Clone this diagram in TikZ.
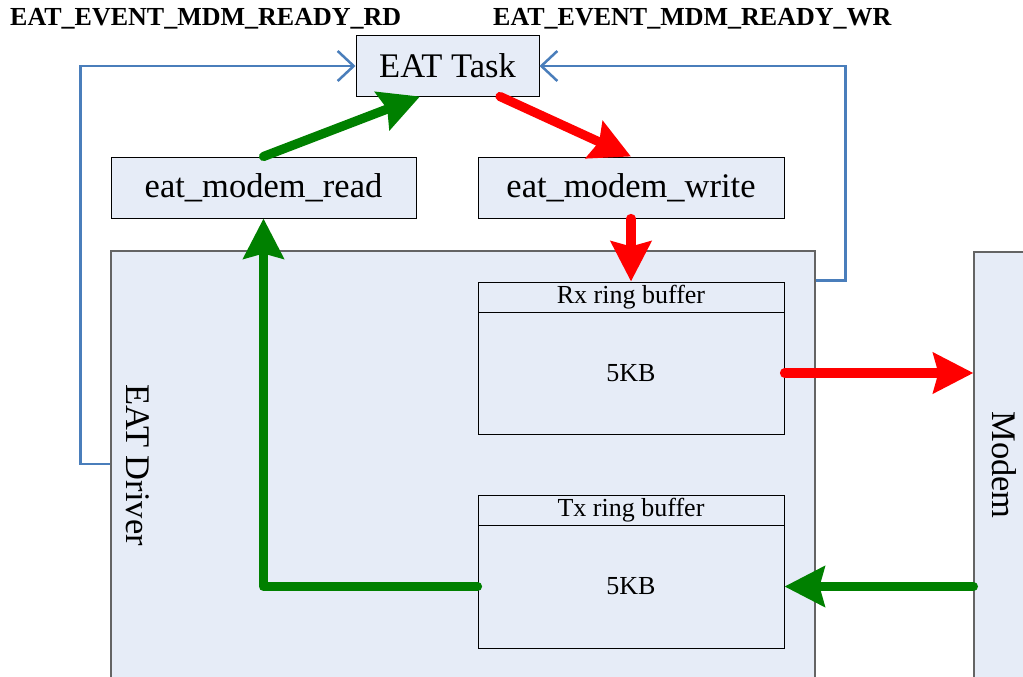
\documentclass[tikz,border=0pt]{standalone}
\usepackage{fontspec}
\setmainfont{Liberation Serif}
\usetikzlibrary{arrows.meta}
\definecolor{boxfill}{RGB}{230,236,247}
\definecolor{bline}{RGB}{74,126,187}
\definecolor{garrow}{RGB}{0,128,0}
\definecolor{rarrow}{RGB}{255,0,0}
\definecolor{bigedge}{RGB}{100,100,100}
\begin{document}
\begin{tikzpicture}[x=1pt,y=-1pt,
  box/.style={draw=black, line width=1pt, fill=boxfill, inner sep=0pt, font=\fontsize{34.5}{40}\selectfont},
  bigbox/.style={draw=bigedge, line width=1.2pt, fill=boxfill, inner sep=0pt},
  bufhead/.style={draw=black, line width=1pt, fill=boxfill, inner sep=0pt, minimum width=306pt, font=\fontsize{26}{30}\selectfont},
  lbl/.style={inner sep=0pt, font=\fontsize{26}{30}\selectfont\bfseries},
  biglbl/.style={inner sep=0pt, rotate=-90, font=\fontsize{34.5}{40}\selectfont},
  thick arrow/.style={line width=9.2pt, line cap=round, line join=round, -{Stealth[length=40pt,width=40pt,inset=5pt]}},
  garr/.style={thick arrow, draw=garrow},
  rarr/.style={thick arrow, draw=rarrow},
  barr/.style={draw=bline, line width=2.5pt, -{Straight Barb[length=16pt,width=30pt]}}
]
\clip (0,0) rectangle (1023,677);
\fill[white] (0,0) rectangle (1023,677);

% big boxes
\node[bigbox, minimum width=704pt, minimum height=469pt] (driver) at (463,485.5) {};
\node[bigbox, minimum width=86pt, minimum height=468pt] (modem) at (1017,486) {};
\node[biglbl] (drvlbl) at (138,465) {EAT Driver};
\node[biglbl] (modlbl) at (1004,465) {Modem};

% small boxes
\node[box, minimum width=183pt, minimum height=60pt] (task) at (447.5,66) {EAT Task};
\node[box, minimum width=305pt, minimum height=61pt] (read) at (263.5,187.5) {eat\_modem\_read};
\node[box, minimum width=306pt, minimum height=61pt] (write) at (631,187.5) {eat\_modem\_write};

% ring buffers
\node[bufhead, minimum height=30pt] (rxh) at (631,297) {Rx ring buffer};
\node[bufhead, minimum height=122pt] (rxb) at (631,373) {5KB};
\node[bufhead, minimum height=30pt] (txh) at (631,510) {Tx ring buffer};
\node[bufhead, minimum height=123pt] (txb) at (631,586.5) {5KB};

% event labels
\node[lbl, anchor=base west] (rdlbl) at (10,26) {EAT\_EVENT\_MDM\_READY\_RD};
\node[lbl, anchor=base west] (wrlbl) at (493,26) {EAT\_EVENT\_MDM\_READY\_WR};

% blue event lines
\draw[barr] ([yshift=21.5pt]driver.west) -- ++(-30,0) |- (task.west);
\draw[barr] ([yshift=-30pt]driver.north east) -- ++(30,0) |- (task.east);

% data arrows
\draw[garr] (read.north) -- ([xshift=-27.5pt]task.south);
\draw[rarr] ([xshift=52.5pt]task.south) -- (write.north);
\draw[rarr] (write.south) -- (rxh.north);
\draw[rarr] (rxb.east) -- (modem.west |- rxb.east);
\draw[garr] (modem.west |- txb.east) -- (txb.east);
\draw[garr] (txb.west) -| (read.south);
\end{tikzpicture}
\end{document}
